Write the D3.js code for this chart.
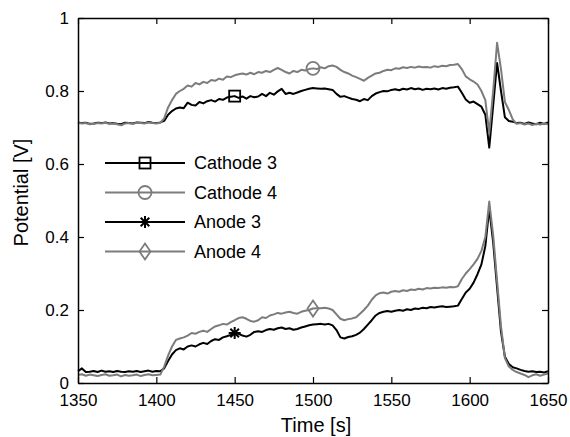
<!DOCTYPE html>
<html>
<head>
<meta charset="utf-8">
<script src="https://cdn.jsdelivr.net/npm/d3@7"></script>
<style>
  body { margin: 0; background: #fff; }
  svg { display: block; font-family: "Liberation Sans", Arial, sans-serif; }
</style>
</head>
<body>
<div id="chart"></div>
<script>
// sample times [s]
const times = [
  1350, 1352.5, 1355, 1357.5, 1360, 1362.5, 1365, 1367.5, 1370, 1372.5,
  1375, 1377.5, 1380, 1382.5, 1385, 1387.5, 1390, 1392.5, 1395, 1397.5,
  1400, 1402.5, 1405, 1407.5, 1410, 1412.5, 1415, 1417.5, 1420, 1422.5,
  1425, 1427.5, 1430, 1432.5, 1435, 1437.5, 1440, 1442.5, 1445, 1447.5,
  1450, 1452.5, 1455, 1457.5, 1460, 1462.5, 1465, 1467.5, 1470, 1472.5,
  1475, 1477.5, 1480, 1482.5, 1485, 1487.5, 1490, 1492.5, 1495, 1497.5,
  1500, 1502.5, 1505, 1507.5, 1510, 1512.5, 1515, 1517.5, 1520, 1522.5,
  1525, 1527.5, 1530, 1532.5, 1535, 1537.5, 1540, 1542.5, 1545, 1547.5,
  1550, 1552.5, 1555, 1557.5, 1560, 1562.5, 1565, 1567.5, 1570, 1572.5,
  1575, 1577.5, 1580, 1582.5, 1585, 1587.5, 1590, 1592.5, 1595, 1597.5,
  1600, 1602.5, 1605, 1607.5, 1610, 1612.5, 1615, 1617.5, 1620, 1622.5,
  1625, 1627.5, 1630, 1632.5, 1635, 1637.5, 1640, 1642.5, 1645, 1647.5,
  1650
];

const cathode3 = [
  0.714, 0.712, 0.713, 0.710, 0.711, 0.713, 0.712, 0.714, 0.711, 0.712,
  0.710, 0.709, 0.713, 0.712, 0.711, 0.714, 0.713, 0.712, 0.715, 0.713,
  0.712, 0.714,
  0.718, 0.735, 0.745, 0.752, 0.755, 0.753, 0.768, 0.762, 0.760, 0.770,
  0.766, 0.772, 0.775, 0.771, 0.778, 0.776, 0.782, 0.784, 0.786, 0.781,
  0.785, 0.779, 0.786, 0.783, 0.785, 0.792, 0.786, 0.795, 0.790, 0.799,
  0.806, 0.792, 0.795, 0.792, 0.796, 0.800, 0.803, 0.806, 0.808, 0.807,
  0.806, 0.807, 0.805, 0.803, 0.792, 0.784, 0.786, 0.782, 0.778, 0.776,
  0.772, 0.778, 0.775, 0.786, 0.793, 0.797, 0.800, 0.799, 0.803, 0.805,
  0.802, 0.806, 0.804, 0.808, 0.805, 0.807, 0.803, 0.806, 0.805, 0.807,
  0.804, 0.808, 0.806, 0.809, 0.810, 0.812, 0.795, 0.777, 0.768, 0.771,
  0.764, 0.757, 0.735, 0.645, 0.760, 0.877, 0.800, 0.728, 0.718, 0.716,
  0.712, 0.713, 0.710, 0.714, 0.711, 0.709, 0.713, 0.710, 0.714
];

const cathode4 = [
  0.713, 0.711, 0.712, 0.709, 0.710, 0.712, 0.711, 0.713, 0.710, 0.711,
  0.709, 0.706, 0.711, 0.712, 0.710, 0.713, 0.712, 0.711, 0.714, 0.712,
  0.711, 0.713,
  0.725, 0.755, 0.775, 0.792, 0.800, 0.806, 0.815, 0.812, 0.822, 0.818,
  0.825, 0.822, 0.830, 0.828, 0.834, 0.831, 0.840, 0.838, 0.843, 0.846,
  0.848, 0.845, 0.850, 0.846, 0.852, 0.850, 0.855, 0.852, 0.858, 0.863,
  0.858, 0.852, 0.848, 0.855, 0.852, 0.858, 0.856, 0.860, 0.862, 0.860,
  0.865, 0.862, 0.868, 0.870, 0.866, 0.858, 0.852, 0.848, 0.842, 0.838,
  0.833, 0.828, 0.836, 0.842, 0.848, 0.850, 0.855, 0.858, 0.857, 0.862,
  0.861, 0.865, 0.863, 0.866, 0.864, 0.867, 0.865, 0.866, 0.864, 0.868,
  0.866, 0.869, 0.868, 0.871, 0.872, 0.874, 0.860, 0.840, 0.832, 0.826,
  0.818, 0.800, 0.775, 0.685, 0.800, 0.932, 0.860, 0.770, 0.748, 0.722,
  0.710, 0.712, 0.708, 0.711, 0.707, 0.710, 0.708, 0.711, 0.709
];

const anode3 = [
  0.032, 0.040, 0.030, 0.031, 0.033, 0.030, 0.034, 0.031, 0.032, 0.030,
  0.033, 0.031, 0.030, 0.032, 0.031, 0.033, 0.030, 0.032, 0.034, 0.031,
  0.033, 0.032,
  0.040, 0.060, 0.078, 0.090, 0.095, 0.092, 0.100, 0.103, 0.100, 0.106,
  0.110, 0.107, 0.115, 0.120, 0.118, 0.125, 0.128, 0.132, 0.137, 0.135,
  0.130, 0.127, 0.132, 0.140, 0.142, 0.140, 0.145, 0.148, 0.146, 0.150,
  0.152, 0.148, 0.150, 0.146, 0.148, 0.152, 0.155, 0.158, 0.160, 0.161,
  0.162, 0.160, 0.162, 0.158, 0.145, 0.125, 0.122, 0.126, 0.128, 0.132,
  0.138, 0.148, 0.160, 0.172, 0.185, 0.192, 0.195, 0.197, 0.195, 0.198,
  0.200, 0.198, 0.202, 0.200, 0.204, 0.203, 0.206, 0.205, 0.208, 0.207,
  0.209, 0.210, 0.208, 0.209, 0.210, 0.212, 0.230, 0.248, 0.258, 0.275,
  0.298, 0.325, 0.375, 0.478, 0.385, 0.262, 0.140, 0.072, 0.052, 0.043,
  0.040, 0.036, 0.033, 0.031, 0.032, 0.030, 0.031, 0.029, 0.032
];

const anode4 = [
  0.022, 0.024, 0.020, 0.023, 0.021, 0.019, 0.022, 0.024, 0.020, 0.021,
  0.023, 0.018, 0.022, 0.020, 0.021, 0.023, 0.019, 0.022, 0.024, 0.021,
  0.022, 0.023,
  0.045, 0.075, 0.100, 0.118, 0.122, 0.125, 0.130, 0.137, 0.135, 0.140,
  0.143, 0.140, 0.148, 0.155, 0.158, 0.162, 0.160, 0.167, 0.172, 0.178,
  0.180, 0.176, 0.170, 0.168, 0.172, 0.180, 0.178, 0.185, 0.188, 0.192,
  0.190, 0.193, 0.195, 0.192, 0.190, 0.195, 0.198, 0.200, 0.204, 0.205,
  0.205, 0.206, 0.204, 0.200, 0.188, 0.176, 0.172, 0.175, 0.177, 0.180,
  0.190, 0.200, 0.212, 0.228, 0.240, 0.246, 0.248, 0.245, 0.250, 0.252,
  0.250, 0.254, 0.252, 0.256, 0.255, 0.258, 0.256, 0.260, 0.259, 0.261,
  0.260, 0.262, 0.261, 0.263, 0.262, 0.265, 0.285, 0.300, 0.312, 0.325,
  0.340, 0.362, 0.400, 0.497, 0.405, 0.280, 0.155, 0.068, 0.045, 0.036,
  0.030, 0.026, 0.022, 0.016, 0.021, 0.024, 0.020, 0.023, 0.026
];

const seriesNames = ["Cathode 3", "Cathode 4", "Anode 3", "Anode 4"];
const seriesValues = [cathode3, cathode4, anode3, anode4];
const markerTimes = [1450, 1500, 1450, 1500];
const markerShapes = ["square", "circle", "star", "diamond"];
const xTicks = [1350, 1400, 1450, 1500, 1550, 1600, 1650];
const yTicks = [0, 0.2, 0.4, 0.6, 0.8, 1];

const colors = ["#000000", "#7c7c7c", "#000000", "#7c7c7c"];

const W = 570, H = 437;
const margin = { top: 18, right: 22, bottom: 54, left: 78 };
const width = W - margin.left - margin.right;
const height = H - margin.top - margin.bottom;

const svg = d3.select("#chart").append("svg")
    .attr("width", W)
    .attr("height", H);

svg.append("rect").attr("width", W).attr("height", H).attr("fill", "#fff");

const g = svg.append("g").attr("transform", `translate(${margin.left},${margin.top})`);

const x = d3.scaleLinear().domain([1350, 1650]).range([0, width]);
const y = d3.scaleLinear().domain([0, 1]).range([height, 0]);

// draws a marker glyph centred at (cx, cy)
function drawMarker(sel, shape, cx, cy, color) {
    const m = sel.append("g").attr("transform", `translate(${cx},${cy})`)
        .attr("fill", "none").attr("stroke", color).attr("stroke-width", 1.8);
    if (shape === "square") {
        m.append("rect").attr("x", -5.5).attr("y", -5.5).attr("width", 11).attr("height", 11);
    } else if (shape === "circle") {
        m.append("circle").attr("r", 6.5);
    } else if (shape === "diamond") {
        m.append("path").attr("d", "M0,-8L5.5,0L0,8L-5.5,0Z");
    } else if (shape === "star") {
        m.append("path").attr("d", "M-6,0H6M0,-6V6M-4.3,-4.3L4.3,4.3M-4.3,4.3L4.3,-4.3")
            .attr("stroke-width", 2);
    }
}

// series lines
const line = d3.line().x((d) => x(d[0])).y((d) => y(d[1]));

seriesValues.forEach((vals, i) => {
    const pts = times.map((t, j) => [t, vals[j]]);
    g.append("path")
        .datum(pts)
        .attr("fill", "none")
        .attr("stroke", colors[i])
        .attr("stroke-width", 2)
        .attr("stroke-linejoin", "round")
        .attr("d", line);
    const k = times.indexOf(markerTimes[i]);
    drawMarker(g, markerShapes[i], x(times[k]), y(vals[k]), colors[i]);
});

// axes: box with inward ticks on all sides
const tickStyle = (sel) => {
    sel.select(".domain").attr("stroke", "#000").attr("stroke-width", 1.5);
    sel.selectAll(".tick line").attr("stroke", "#000").attr("stroke-width", 1.2);
    sel.selectAll(".tick text").attr("fill", "#000").attr("font-size", 17)
        .attr("font-family", "Liberation Sans, Arial, sans-serif");
};

g.append("g").attr("transform", `translate(0,${height})`)
    .call(d3.axisBottom(x).tickValues(xTicks).tickSizeInner(-6).tickSizeOuter(0).tickPadding(11).tickFormat(d3.format("d")))
    .call(tickStyle);
g.append("g")
    .call(d3.axisTop(x).tickValues(xTicks).tickSizeInner(-6).tickSizeOuter(0).tickFormat(""))
    .call(tickStyle);
g.append("g")
    .call(d3.axisLeft(y).tickValues(yTicks).tickSizeInner(-6).tickSizeOuter(0).tickPadding(9)
        .tickFormat((d) => (d === 0 || d === 1 ? d3.format("d")(d) : d3.format(".1f")(d))))
    .call(tickStyle);
g.append("g").attr("transform", `translate(${width},0)`)
    .call(d3.axisRight(y).tickValues(yTicks).tickSizeInner(-6).tickSizeOuter(0).tickFormat(""))
    .call(tickStyle);

// axis labels
svg.append("text")
    .attr("x", margin.left + width / 2 + 3)
    .attr("y", 432)
    .attr("text-anchor", "middle")
    .attr("font-size", 20)
    .text("Time [s]");

svg.append("text")
    .attr("transform", `translate(28,${margin.top + height / 2 - 8}) rotate(-90)`)
    .attr("text-anchor", "middle")
    .attr("font-size", 20)
    .text("Potential [V]");

// legend
const legend = svg.append("g").attr("transform", "translate(105,163)");
seriesNames.forEach((name, i) => {
    const row = legend.append("g").attr("transform", `translate(0,${i * 29.5})`);
    row.append("line").attr("x1", 0).attr("x2", 80).attr("y1", 0).attr("y2", 0)
        .attr("stroke", colors[i]).attr("stroke-width", 2);
    drawMarker(row, markerShapes[i], 40, 0, colors[i]);
    row.append("text").attr("x", 89).attr("y", 0).attr("dy", "0.35em")
        .attr("font-size", 18).text(name);
});
</script>
</body>
</html>
